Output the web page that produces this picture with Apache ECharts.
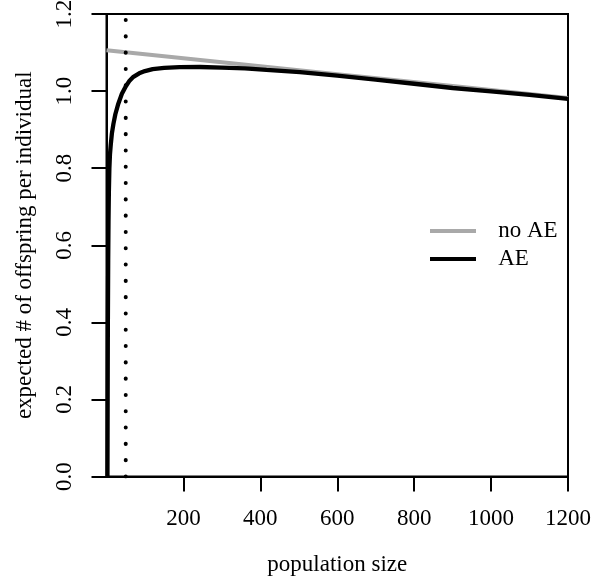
<!DOCTYPE html>
<html>
<head>
<meta charset="utf-8">
<script src="https://cdn.jsdelivr.net/npm/echarts@6/dist/echarts.min.js"></script>
<style>
html,body{margin:0;padding:0;background:#fff;}
#chart{width:593px;height:581px;}
</style>
</head>
<body>
<div id="chart"></div>
<script>
// Data
var noAeN     = [0, 300, 600, 900, 1200];
var noAeValue = [1.106, 1.075, 1.044, 1.013, 0.982];

var aeN     = [2.5, 3.0, 3.5, 4.4, 5.2, 6.2, 7.5, 9, 11, 14, 18, 23, 30, 40, 50, 60, 70, 85, 100, 120, 150, 190, 243, 300, 360, 416, 503, 600, 700, 800, 900, 1000, 1100, 1200];
var aeValue = [0.0, 0.20, 0.38, 0.56, 0.66, 0.74, 0.80, 0.835, 0.86, 0.89, 0.915, 0.94, 0.965, 0.993, 1.012, 1.027, 1.037, 1.046, 1.052, 1.057, 1.060, 1.062, 1.0625, 1.061, 1.059, 1.055, 1.049, 1.040, 1.030, 1.019, 1.008, 0.999, 0.990, 0.980];

var thresholdN = 50;
var xTicks = [200, 400, 600, 800, 1000, 1200];
var yTicks = [0, 0.2, 0.4, 0.6, 0.8, 1.0, 1.2];

var seriesNames = ['no AE', 'AE'];
var seriesColors = ['#a9a9a9', '#000000'];
var xTitle = 'population size';
var yTitle = 'expected # of offspring per individual';

function pairs(xs, ys) { return xs.map(function (x, i) { return [x, ys[i]]; }); }

var FONT = '"Liberation Serif", "DejaVu Serif", serif';
var chart = echarts.init(document.getElementById('chart'), null, {renderer: 'canvas'});
chart.setOption({
  animation: false,
  backgroundColor: '#ffffff',
  grid: {
    left: 106.5, right: 25, top: 14, bottom: 104.5,
    outerBoundsMode: 'none', containLabel: false,
    show: true, borderColor: '#000', borderWidth: 2, backgroundColor: 'transparent'
  },
  xAxis: {
    type: 'value', min: 0, max: 1200, interval: 200,
    name: xTitle, nameLocation: 'middle', nameGap: 77,
    nameTextStyle: {fontFamily: FONT, fontSize: 23, color: '#000'},
    axisLine: {show: true, lineStyle: {color: '#000', width: 2}},
    axisTick: {show: true, length: 15, lineStyle: {color: '#000', width: 2}, customValues: xTicks},
    axisLabel: {margin: 31, fontFamily: FONT, fontSize: 23, color: '#000', customValues: xTicks,
      formatter: function (v) { return String(v); }},
    splitLine: {show: false}
  },
  yAxis: {
    type: 'value', min: 0, max: 1.2, interval: 0.2,
    name: yTitle, nameLocation: 'middle', nameGap: 70, nameRotate: 90,
    nameTextStyle: {fontFamily: FONT, fontSize: 23, color: '#000'},
    axisLine: {show: true, lineStyle: {color: '#000', width: 2}},
    axisTick: {show: true, length: 15, lineStyle: {color: '#000', width: 2}},
    axisLabel: {margin: 30, rotate: 90, fontFamily: FONT, fontSize: 23, color: '#000',
      formatter: function (v) { return v.toFixed(1); }},
    splitLine: {show: false}
  },
  legend: {
    show: true,
    data: [
      {name: seriesNames[0], icon: 'rect', itemStyle: {color: seriesColors[0]}},
      {name: seriesNames[1], icon: 'rect', itemStyle: {color: seriesColors[1]}}
    ],
    orient: 'vertical', left: 430, top: 217, padding: 0,
    itemWidth: 46, itemHeight: 4, itemGap: 0,
    textStyle: {fontFamily: FONT, fontSize: 23, color: '#000', lineHeight: 28},
    formatter: function (n) { return '   ' + n; }
  },
  series: [
    {
      name: seriesNames[0], type: 'line', data: pairs(noAeN, noAeValue),
      symbol: 'none', showSymbol: false, smooth: false,
      lineStyle: {color: seriesColors[0], width: 4}, itemStyle: {color: seriesColors[0]}
    },
    {
      name: seriesNames[1], type: 'line', data: pairs(aeN, aeValue),
      symbol: 'none', showSymbol: false, smooth: false,
      lineStyle: {color: seriesColors[1], width: 4.3}, itemStyle: {color: seriesColors[1]}
    },
    {
      name: 'threshold', type: 'line', data: [[thresholdN, 0], [thresholdN, 1.2]],
      symbol: 'none', showSymbol: false, silent: true,
      lineStyle: {color: '#000', width: 4, type: [0.1, 16.2], cap: 'round'}
    }
  ]
});
</script>
</body>
</html>
